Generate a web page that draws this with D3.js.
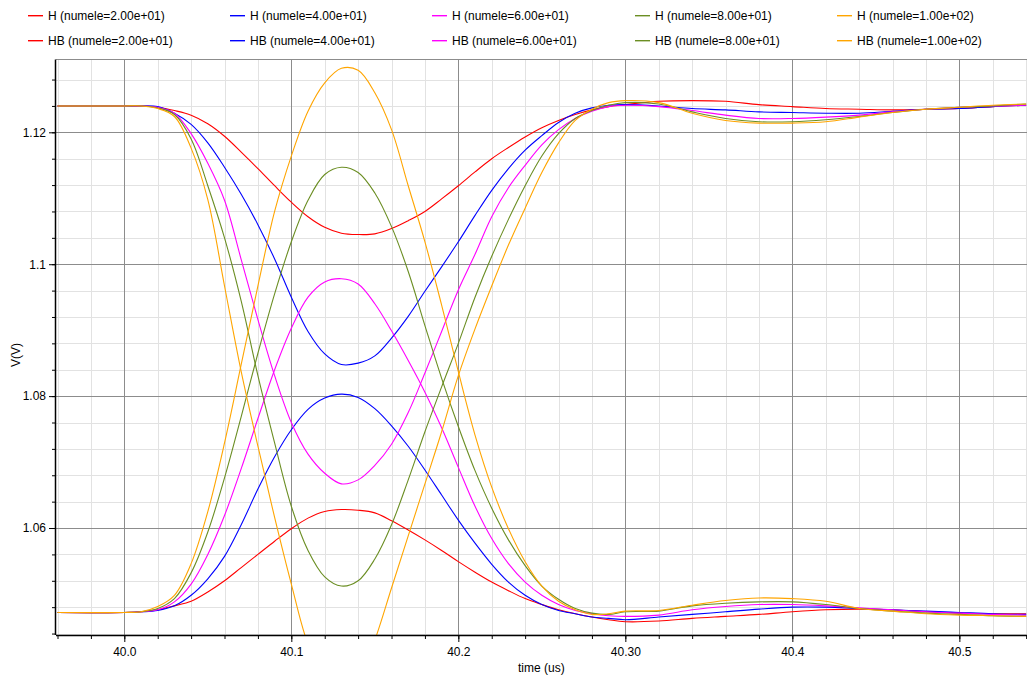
<!DOCTYPE html>
<html><head><meta charset="utf-8">
<script src="https://cdn.jsdelivr.net/npm/d3@7"></script>
<style>
html,body{margin:0;padding:0;background:#fff;}
svg{display:block;font-family:"Liberation Sans",Arial,sans-serif;}
</style></head>
<body>
<script>
// ---------------- data ----------------
const times = [39.96, 40.00, 40.01, 40.02, 40.03, 40.04, 40.05, 40.06, 40.07, 40.08, 40.09, 40.10,
  40.11, 40.12, 40.13, 40.14, 40.15, 40.16, 40.17, 40.18, 40.19, 40.20, 40.21, 40.22, 40.23, 40.24,
  40.25, 40.26, 40.27, 40.28, 40.29, 40.30, 40.32, 40.34, 40.36, 40.38, 40.40, 40.42, 40.44, 40.46,
  40.48, 40.50, 40.52, 40.54];

const H20 = [1.124, 1.124, 1.124, 1.1238, 1.1233, 1.1226, 1.1213, 1.1194, 1.1170, 1.1145, 1.1119, 1.1094,
  1.1072, 1.1056, 1.1047, 1.1045, 1.1046, 1.1054, 1.1066, 1.1080, 1.1099, 1.1119, 1.1140, 1.1160, 1.1177, 1.1193,
  1.1207, 1.1218, 1.1227, 1.1234, 1.1239, 1.1242, 1.1247, 1.1248, 1.1247, 1.1242, 1.1239, 1.1236, 1.1235, 1.1234,
  1.1235, 1.1236, 1.1239, 1.1241];
const H40 = [1.124, 1.124, 1.124, 1.1239, 1.1229, 1.1212, 1.1184, 1.1147, 1.1106, 1.1060, 1.1008, 1.0950,
  1.0898, 1.0864, 1.0848, 1.0850, 1.0861, 1.0888, 1.0921, 1.0959, 1.0996, 1.1034, 1.1074, 1.1112, 1.1145, 1.1173,
  1.1195, 1.1215, 1.1229, 1.1237, 1.1241, 1.1242, 1.1240, 1.1236, 1.1234, 1.1231, 1.1230, 1.1229, 1.1229, 1.1232,
  1.1235, 1.1236, 1.1239, 1.1241];
const H60 = [1.124, 1.124, 1.124, 1.1238, 1.1229, 1.1198, 1.1153, 1.1097, 1.1007, 1.0916, 1.0831, 1.0760,
  1.0712, 1.0683, 1.0667, 1.0673, 1.0695, 1.0727, 1.0775, 1.0835, 1.0898, 1.0961, 1.1015, 1.1072, 1.1116, 1.1150,
  1.1181, 1.1204, 1.1221, 1.1232, 1.1239, 1.1241, 1.1239, 1.1233, 1.1226, 1.1221, 1.1221, 1.1223, 1.1226, 1.1231,
  1.1235, 1.1238, 1.1240, 1.1241];
const H80 = [1.124, 1.124, 1.124, 1.1237, 1.1227, 1.1190, 1.1119, 1.1040, 1.0944, 1.0831, 1.0729, 1.0633,
  1.0566, 1.0526, 1.0512, 1.0520, 1.0553, 1.0605, 1.0673, 1.0746, 1.0814, 1.0880, 1.0950, 1.1012, 1.1068, 1.1119,
  1.1164, 1.1198, 1.1221, 1.1233, 1.1241, 1.1245, 1.1243, 1.1231, 1.1221, 1.1216, 1.1216, 1.1219, 1.1224, 1.1230,
  1.1235, 1.1238, 1.1240, 1.1243];
const H100 = [1.124, 1.124, 1.124, 1.1236, 1.1224, 1.1176, 1.1098, 1.0967, 1.0837, 1.0724, 1.0616, 1.0515,
  1.0424, 1.0375, 1.0358, 1.0368, 1.0430, 1.0509, 1.0588, 1.0667, 1.0746, 1.0831, 1.0902, 1.0967, 1.1029, 1.1085,
  1.1139, 1.1184, 1.1218, 1.1235, 1.1245, 1.1248, 1.1245, 1.1229, 1.1218, 1.1214, 1.1214, 1.1216, 1.1223, 1.1230,
  1.1235, 1.1238, 1.1241, 1.1243];

const HB20 = [1.0472, 1.0472, 1.0473, 1.0476, 1.0482, 1.0489, 1.0503, 1.0520, 1.0540, 1.0560, 1.0580, 1.0599,
  1.0615, 1.0625, 1.0628, 1.0627, 1.0623, 1.0611, 1.0597, 1.0582, 1.0566, 1.0549, 1.0533, 1.0518, 1.0505, 1.0493,
  1.0484, 1.0476, 1.0470, 1.0465, 1.0461, 1.0458, 1.0459, 1.0463, 1.0466, 1.0469, 1.0473, 1.0476, 1.0477, 1.0476,
  1.0473, 1.0471, 1.0470, 1.0470];
const HB40 = [1.0472, 1.0472, 1.0473, 1.0475, 1.0482, 1.0498, 1.0523, 1.0557, 1.0605, 1.0659, 1.0708, 1.0749,
  1.0780, 1.0797, 1.0803, 1.0798, 1.0781, 1.0755, 1.0724, 1.0688, 1.0650, 1.0612, 1.0577, 1.0545, 1.0518, 1.0498,
  1.0484, 1.0475, 1.0470, 1.0465, 1.0463, 1.0461, 1.0465, 1.0469, 1.0473, 1.0477, 1.0480, 1.0480, 1.0478, 1.0476,
  1.0474, 1.0472, 1.0470, 1.0469];
const HB60 = [1.0472, 1.0472, 1.0473, 1.0476, 1.0488, 1.0515, 1.0560, 1.0619, 1.0690, 1.0766, 1.0840, 1.0903,
  1.0950, 1.0973, 1.0978, 1.0970, 1.0940, 1.0899, 1.0854, 1.0806, 1.0752, 1.0692, 1.0633, 1.0584, 1.0546, 1.0518,
  1.0498, 1.0484, 1.0475, 1.0470, 1.0467, 1.0466, 1.0468, 1.0476, 1.0481, 1.0484, 1.0484, 1.0482, 1.0479, 1.0476,
  1.0473, 1.0471, 1.0469, 1.0468];
const HB80 = [1.0472, 1.0472, 1.0473, 1.0478, 1.0493, 1.0532, 1.0594, 1.0676, 1.0769, 1.0865, 1.0955, 1.1034,
  1.1097, 1.1136, 1.1147, 1.1139, 1.1108, 1.1057, 1.0989, 1.0907, 1.0827, 1.0754, 1.0687, 1.0630, 1.0582, 1.0543,
  1.0512, 1.0492, 1.0478, 1.0471, 1.0469, 1.0473, 1.0474, 1.0482, 1.0486, 1.0488, 1.0488, 1.0484, 1.0478, 1.0474,
  1.0471, 1.0469, 1.0467, 1.0466];
const HB100 = [1.0472, 1.0472, 1.0473, 1.0481, 1.0498, 1.0546, 1.0625, 1.0729, 1.0848, 1.0967, 1.1080, 1.1164,
  1.1232, 1.1275, 1.1297, 1.1294, 1.1260, 1.1204, 1.1119, 1.1034, 1.0938, 1.0837, 1.0741, 1.0662, 1.0599, 1.0549,
  1.0512, 1.0489, 1.0476, 1.0469, 1.0470, 1.0474, 1.0475, 1.0483, 1.0490, 1.0494, 1.0493, 1.0489, 1.0478, 1.0474,
  1.0470, 1.0468, 1.0467, 1.0466];

const seriesNames = ["H (numele=2.00e+01)", "H (numele=4.00e+01)", "H (numele=6.00e+01)", "H (numele=8.00e+01)", "H (numele=1.00e+02)",
  "HB (numele=2.00e+01)", "HB (numele=4.00e+01)", "HB (numele=6.00e+01)", "HB (numele=8.00e+01)", "HB (numele=1.00e+02)"];
const seriesValues = [H20, H40, H60, H80, H100, HB20, HB40, HB60, HB80, HB100];
const seriesColors = ["#ff0000", "#0000ff", "#ff00ff", "#6b8e23", "#ffa500",
  "#ff0000", "#0000ff", "#ff00ff", "#6b8e23", "#ffa500"];

const xTickValues = [40.0, 40.1, 40.2, 40.3, 40.4, 40.5];
const xTickLabels = ["40.0", "40.1", "40.2", "40.30", "40.4", "40.5"];
const yTickValues = [1.06, 1.08, 1.10, 1.12];
const yTickLabels = ["1.06", "1.08", "1.1", "1.12"];
const xMinorTicks = d3.range(0, 30).map(i => +(39.96 + i * 0.02).toFixed(2));
const yMinorTicks = d3.range(0, 22).map(i => +(1.044 + i * 0.004).toFixed(3));
const xTitle = "time (us)";
const yTitle = "V(V)";

// ---------------- layout ----------------
const W = 1027, Hh = 675;
const L = 56, R = 1027, T = 59.5, B = 635;
const x = d3.scaleLinear().domain([39.9591, 40.5405]).range([L, R]);
const y = d3.scaleLinear().domain([1.04378, 1.13104]).range([B, T]);

const svg = d3.select("body").append("svg").attr("width", W).attr("height", Hh);
svg.append("rect").attr("width", W).attr("height", Hh).attr("fill", "#fff");

// legend (drawn first, in its own group)
const legend = svg.append("g").attr("class", "legend");
seriesNames.forEach((name, k) => {
  const col = k % 5, row = Math.floor(k / 5);
  const lx = Math.round(28 + col * 202.2), ly = 15 + row * 25;
  legend.append("rect").attr("x", lx).attr("y", ly).attr("width", 15).attr("height", 1.4)
    .style("fill", seriesColors[k]);
  legend.append("text").attr("x", lx + 20).attr("y", ly + 5).attr("font-size", 12)
    .style("fill", "#000").text(name);
});

svg.append("clipPath").attr("id", "plotclip").append("rect")
  .attr("x", L).attr("y", T).attr("width", R - L).attr("height", B - T);

const isMajorX = v => xTickValues.some(t => Math.abs(t - v) < 1e-6);
const isMajorY = v => yTickValues.some(t => Math.abs(t - v) < 1e-6);

// grid
const grid = svg.append("g").attr("clip-path", "url(#plotclip)");
grid.selectAll("line.gxm").data(xMinorTicks.filter(v => !isMajorX(v))).join("line").attr("class", "gxm")
  .attr("x1", d => Math.round(x(d)) + 0.5).attr("x2", d => Math.round(x(d)) + 0.5)
  .attr("y1", T).attr("y2", B).attr("stroke", "#e2e2e2").attr("stroke-width", 1);
grid.selectAll("line.gym").data(yMinorTicks.filter(v => !isMajorY(v))).join("line").attr("class", "gym")
  .attr("y1", d => Math.round(y(d)) + 0.5).attr("y2", d => Math.round(y(d)) + 0.5)
  .attr("x1", L).attr("x2", R).attr("stroke", "#e2e2e2").attr("stroke-width", 1);
grid.selectAll("line.gx").data(xTickValues).join("line").attr("class", "gx")
  .attr("x1", d => Math.round(x(d)) + 0.5).attr("x2", d => Math.round(x(d)) + 0.5)
  .attr("y1", T).attr("y2", B).attr("stroke", "#8c8c8c").attr("stroke-width", 1);
grid.selectAll("line.gy").data(yTickValues).join("line").attr("class", "gy")
  .attr("y1", d => Math.round(y(d)) + 0.5).attr("y2", d => Math.round(y(d)) + 0.5)
  .attr("x1", L).attr("x2", R).attr("stroke", "#8c8c8c").attr("stroke-width", 1);

// top border of plot
svg.append("line").attr("x1", L).attr("x2", R).attr("y1", T).attr("y2", T)
  .attr("stroke", "#8c8c8c");

// curves
const line = d3.line().x((d, i) => x(times[i])).y(d => y(d)).curve(d3.curveCatmullRom.alpha(0.5));
const plot = svg.append("g").attr("clip-path", "url(#plotclip)");
const order = [0, 5, 1, 6, 2, 7, 3, 8, 4, 9];
order.forEach(k => {
  plot.append("path").datum(seriesValues[k]).attr("d", line)
    .attr("fill", "none").attr("stroke", seriesColors[k]).attr("stroke-width", 1.1);
});

// axes
const axes = svg.append("g").attr("class", "axes");
axes.append("g").attr("transform", `translate(0,${B})`)
  .call(d3.axisBottom(x).tickValues(xTickValues).tickSize(7).tickPadding(5)
    .tickFormat((d, i) => xTickLabels[i]));
axes.append("g").attr("transform", `translate(0,${B})`)
  .call(d3.axisBottom(x).tickValues(xMinorTicks).tickSize(4).tickFormat(""));
axes.append("g").attr("transform", `translate(${L},0)`)
  .call(d3.axisLeft(y).tickValues(yTickValues).tickSize(7).tickPadding(3)
    .tickFormat((d, i) => yTickLabels[i]));
axes.append("g").attr("transform", `translate(${L},0)`)
  .call(d3.axisLeft(y).tickValues(yMinorTicks).tickSize(4).tickFormat(""));
axes.selectAll(".domain").remove();
axes.selectAll(".tick line").attr("stroke", "#000");
axes.selectAll(".tick text").attr("font-size", 12).attr("fill", "#000")
  .attr("font-family", "'Liberation Sans', Arial, sans-serif");
// axis lines
axes.append("line").attr("x1", L).attr("x2", R).attr("y1", B + 0.5).attr("y2", B + 0.5).attr("stroke", "#000").attr("stroke-width", 1.5);
axes.append("line").attr("x1", L - 0.5).attr("x2", L - 0.5).attr("y1", T).attr("y2", B).attr("stroke", "#000").attr("stroke-width", 1.5);

// axis titles
svg.append("text").attr("x", 518).attr("y", 672).attr("font-size", 12).attr("fill", "#000").text(xTitle);
svg.append("text").attr("transform", "translate(20,355) rotate(-90)").attr("text-anchor", "middle")
  .attr("font-size", 12).attr("fill", "#000").text(yTitle);
</script>
</body></html>
